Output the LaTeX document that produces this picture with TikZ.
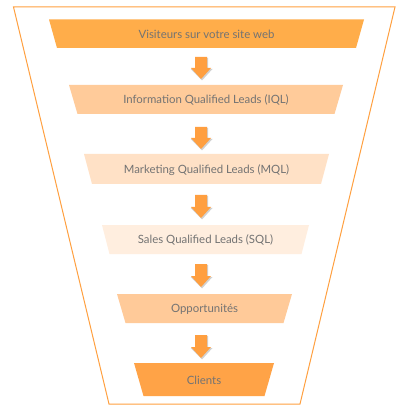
\documentclass[tikz,border=0pt]{standalone}
\usepackage{fontspec}
\setmainfont{Lato}
\usetikzlibrary{calc}
\definecolor{funnel}{HTML}{FFA040}
\definecolor{cA}{HTML}{FFAD4A}
\definecolor{cB}{HTML}{FFCB9A}
\definecolor{cC}{HTML}{FFE1C6}
\definecolor{cD}{HTML}{FFEEDF}
\definecolor{cE}{HTML}{FFCA99}
\definecolor{cF}{HTML}{FFA347}
\definecolor{arrowc}{HTML}{FF9F40}
\definecolor{txt}{HTML}{737373}
\tikzset{
  lbl/.style={text=txt, font=\fontsize{11.4}{13}\selectfont, inner sep=0pt},
  blk/.style={fill=arrowc, draw=none},
  blkshadow/.style={fill=black, opacity=0.18, draw=none},
}
% #1 top y, #2 bottom y  (center x = 201)
\newcommand\blkarrow[2]{%
  \path[blkshadow] (196,#1+1) -- (208,#1+1) -- (208,#2-10) -- (212.5,#2-10) -- (202,#2+1.5) -- (190.5,#2-10) -- (196,#2-10) -- cycle;
  \path[blk] (195,#1) -- (207,#1) -- (207,#2-11) -- (211,#2-11) -- (201,#2) -- (191,#2-11) -- (195,#2-11) -- cycle;
}
% #1 name, #2 colour, #3 top y, #4 bottom y, #5 top-left x, #6 top-right x, #7 inset, #8 text
\newcommand\stagebox[8]{%
  \fill[#2] (#5,#3) -- (#6,#3) -- (#6-#7,#4) -- (#5+#7,#4) -- cycle;
  \node[lbl] (#1) at ({(#5+#6)/2},{(#3+#4)/2+0.8}) {#8};
}
\begin{document}
\begin{tikzpicture}[x=1pt,y=-1pt]
\useasboundingbox (0,0) rectangle (409,411);
\fill[white] (0,0) rectangle (409,411);
% outer funnel
\draw[funnel, line width=1pt] (13.5,7) -- (395,7) -- (300,404) -- (109,404) -- cycle;
% stages
\stagebox{s1}{cA}{19.5}{48}{49}{364}{8}{Visiteurs sur votre site web}
\stagebox{s2}{cB}{85}{114}{69}{343}{8.5}{Information Qualified Leads (IQL)}
\stagebox{s3}{cC}{154}{184}{84}{329}{8}{Marketing Qualified Leads (MQL)}
\stagebox{s4}{cD}{225}{254}{102}{309}{7.5}{Sales Qualified Leads (SQL)}
\stagebox{s5}{cE}{294}{323}{117}{292}{8.5}{Opportunités}
\stagebox{s6}{cF}{363}{396}{134}{274}{9.5}{Clients}
% arrows
\blkarrow{57}{79}
\blkarrow{127}{149}
\blkarrow{195}{218}
\blkarrow{264}{287}
\blkarrow{335}{358}
\end{tikzpicture}
\end{document}
